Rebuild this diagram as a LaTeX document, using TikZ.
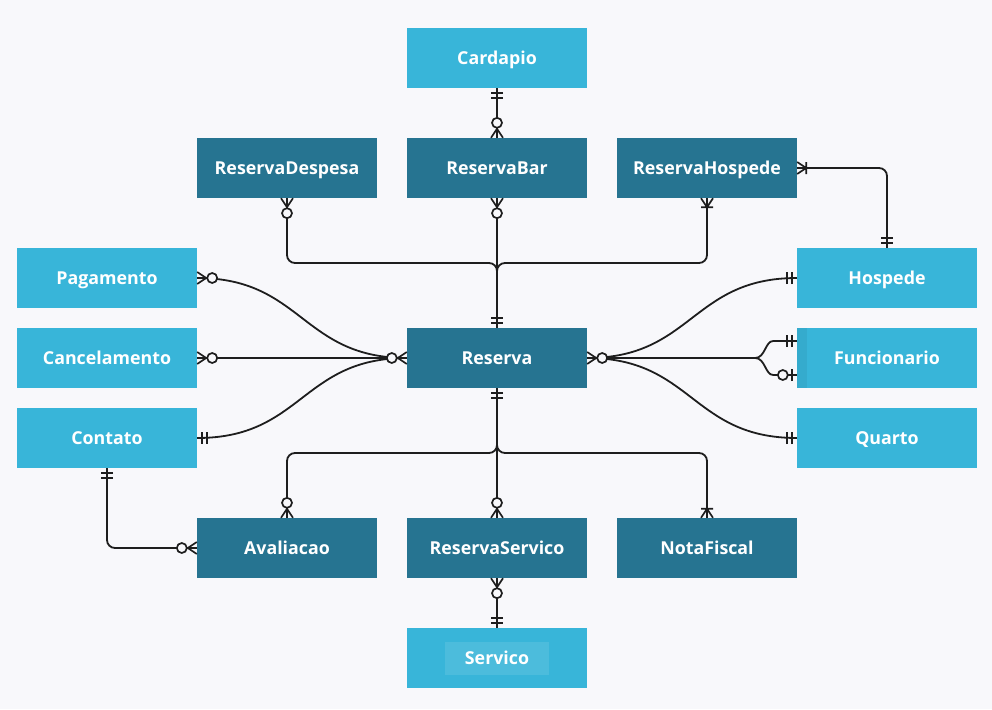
\documentclass[tikz,border=0pt]{standalone}
\usepackage{fontspec}
\setmainfont{Open Sans}
\usetikzlibrary{calc}
\definecolor{bgcol}{HTML}{F8F8FB}
\definecolor{lightent}{HTML}{38B5D9}
\definecolor{darkent}{HTML}{267491}
\definecolor{relcol}{HTML}{1E1E1E}

\tikzset{
  entity/.style={minimum width=180pt, minimum height=60pt, inner sep=0pt, text=white,
    text height=13.5pt, text depth=0pt,
    font=\bfseries\fontsize{17.8}{20}\selectfont},
  lightbox/.style={entity, fill=lightent},
  darkbox/.style={entity, fill=darkent},
  rel/.style={draw=relcol, line width=1.8pt, rounded corners=8pt},
  relmark/.style={draw=relcol, line width=1.7pt},
  % cardinality ends, drawn outward along +x from the entity edge
  onlyone/.pic={\draw[relmark] (5,-6) -- (5,6) (10,-6) -- (10,6);},
  zeromany/.pic={\draw[relmark] (0,-6) -- (9,0) -- (0,6);
    \filldraw[relmark, fill=bgcol] (15,0) circle (5pt);},
  onemany/.pic={\draw[relmark] (0,-6) -- (9,0) -- (0,6) (9,-6) -- (9,6);},
  zeroone/.pic={\draw[relmark] (5,-6) -- (5,6);
    \filldraw[relmark, fill=bgcol] (14,0) circle (5pt);}
}

\begin{document}
\begin{tikzpicture}[x=1pt, y=-1pt]
  \fill[bgcol] (0,0) rectangle (992,709);
  \useasboundingbox (0,0) rectangle (992,709);

  % entities
  \node[lightbox] (cardapio) at (497,58) {Cardapio};
  \node[darkbox] (resDespesa) at (287,168) {ReservaDespesa};
  \node[darkbox] (resBar) at (497,168) {ReservaBar};
  \node[darkbox] (resHospede) at (707,168) {ReservaHospede};
  \node[lightbox] (pagamento) at (107,278) {Pagamento};
  \node[lightbox] (hospede) at (887,278) {Hospede};
  \node[lightbox] (cancelamento) at (107,358) {Cancelamento};
  \node[darkbox] (reserva) at (497,358) {Reserva};
  \node[lightbox] (funcionario) at (887,358) {Funcionario};
  \node[lightbox] (contato) at (107,438) {Contato};
  \node[lightbox] (quarto) at (887,438) {Quarto};
  \node[darkbox] (avaliacao) at (287,548) {Avaliacao};
  \node[darkbox] (resServico) at (497,548) {ReservaServico};
  \node[darkbox] (notaFiscal) at (707,548) {NotaFiscal};
  \node[lightbox] (servico) at (497,658) {Servico};
  \fill[white, opacity=0.1] (445,642) rectangle (549,675);
  \fill[black, opacity=0.05] (funcionario.north west) rectangle ++(10,60);

  \coordinate (topjoin) at (497,263);
  \coordinate (botjoin) at (497,453);

  % relationships
  \draw[rel] (cardapio.south) -- (resBar.north);
  \draw[rel] (resDespesa.south) |- (topjoin) -- (reserva.north);
  \draw[rel] (resBar.south) -- (reserva.north);
  \draw[rel] (resHospede.south) |- (topjoin) -- (reserva.north);
  \draw[rel] (resHospede.east) -| (hospede.north);
  \draw[rel] (pagamento.east) .. controls +(105,0) and +(-105,0) .. (reserva.west);
  \draw[rel] (cancelamento.east) -- (reserva.west);
  \draw[rel] (contato.east) .. controls +(105,0) and +(-105,0) .. (reserva.west);
  \draw[rel] (reserva.east) .. controls +(105,0) and +(-105,0) .. (hospede.west);
  \draw[rel, sharp corners] (reserva.east) -- ++(168,0) .. controls +(10,0) and +(-8,0) .. ++(18,-17)
    -- ([yshift=17pt]funcionario.west);
  \draw[rel, sharp corners] (reserva.east) -- ++(168,0) .. controls +(10,0) and +(-8,0) .. ++(18,17)
    -- ([yshift=-17pt]funcionario.west);
  \draw[rel] (reserva.east) .. controls +(105,0) and +(-105,0) .. (quarto.west);
  \draw[rel] (reserva.south) -- (botjoin) -| (avaliacao.north);
  \draw[rel] (reserva.south) -- (resServico.north);
  \draw[rel] (reserva.south) -- (botjoin) -| (notaFiscal.north);
  \draw[rel] (contato.south) |- (avaliacao.west);
  \draw[rel] (resServico.south) -- (servico.north);

  % cardinalities
  \pic[rotate=-90] at (cardapio.south) {onlyone};
  \pic[rotate=90] at (resBar.north) {zeromany};
  \pic[rotate=-90] at (resDespesa.south) {zeromany};
  \pic[rotate=-90] at (resBar.south) {zeromany};
  \pic[rotate=-90] at (resHospede.south) {onemany};
  \pic at (resHospede.east) {onemany};
  \pic[rotate=90] at (hospede.north) {onlyone};
  \pic[rotate=90] at (reserva.north) {onlyone};
  \pic at (pagamento.east) {zeromany};
  \pic at (cancelamento.east) {zeromany};
  \pic at (contato.east) {onlyone};
  \pic[rotate=180] at (reserva.west) {zeromany};
  \pic at (reserva.east) {zeromany};
  \pic[rotate=180] at (hospede.west) {onlyone};
  \pic[rotate=180] at ([yshift=17pt]funcionario.west) {onlyone};
  \pic[rotate=180] at ([yshift=-17pt]funcionario.west) {zeroone};
  \pic[rotate=180] at (quarto.west) {onlyone};
  \pic[rotate=-90] at (reserva.south) {onlyone};
  \pic[rotate=90] at (avaliacao.north) {zeromany};
  \pic[rotate=90] at (resServico.north) {zeromany};
  \pic[rotate=90] at (notaFiscal.north) {onemany};
  \pic[rotate=-90] at (contato.south) {onlyone};
  \pic[rotate=180] at (avaliacao.west) {zeromany};
  \pic[rotate=-90] at (resServico.south) {zeromany};
  \pic[rotate=90] at (servico.north) {onlyone};
\end{tikzpicture}
\end{document}
